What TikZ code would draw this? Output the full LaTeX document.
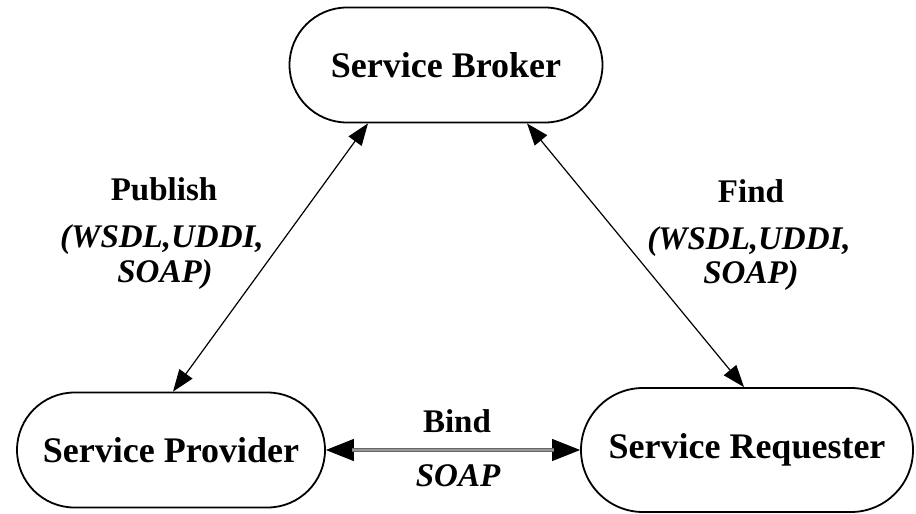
\documentclass[tikz,border=0pt]{standalone}
\usepackage{fontspec}
\setmainfont{Liberation Serif}
\usetikzlibrary{shapes.misc,arrows.meta,calc}

\tikzset{
  role/.style={rounded rectangle, draw=black, line width=1.8pt, fill=white,
    inner sep=0pt, font=\fontsize{36}{40}\selectfont\bfseries},
  lbl/.style={anchor=base, inner sep=0pt, font=\fontsize{33}{38}\selectfont\bfseries},
  ilbl/.style={lbl, font=\fontsize{33}{38}\selectfont\bfseries\itshape},
  link/.style={line width=1.2pt, {Triangle[length=22pt,width=16pt]}-{Triangle[length=22pt,width=16pt]}},
  bindtips/.style={line width=1pt, {Triangle[length=28pt,width=22pt]}-{Triangle[length=28pt,width=22pt]}},
  bindbar/.style={line width=1.3pt, draw=black!60, double=black!40, double distance=1.8pt, shorten <=26pt, shorten >=26pt}
}

\begin{document}
\begin{tikzpicture}[x=1pt,y=-1pt]
  \useasboundingbox (0,0) rectangle (916,514);

  % the three roles
  \node[role, minimum width=313pt, minimum height=115pt] (broker) at (446,65) {Service Broker};
  \node[role, minimum width=308pt, minimum height=115pt] (provider) at (171,450) {Service Provider};
  \node[role, minimum width=332pt, minimum height=124pt] (requester) at (747,450) {Service Requester};

  % interactions
  \draw[link] ($(broker.south)+(-78,0)$) -- ($(provider.north)+(2,0)$);
  \draw[link] ($(broker.south)+(81,0)$) -- ($(requester.north)+(-3,0)$);
  \draw[bindtips] (provider.east) -- (requester.west);
  \draw[bindbar] (provider.east) -- (requester.west);

  % publish label
  \node[lbl]  (pub1) at (164,200) {Publish};
  \node[ilbl] (pub2) at (162,247) {(WSDL,UDDI,};
  \node[ilbl] (pub3) at (165,282) {SOAP)};

  % find label
  \node[lbl]  (find1) at (751,202) {Find};
  \node[ilbl] (find2) at (749,249) {(WSDL,UDDI,};
  \node[ilbl] (find3) at (751,283) {SOAP)};

  % bind label
  \node[lbl]  (bind1) at (457,432) {Bind};
  \node[ilbl] (bind2) at (458,486) {SOAP};
\end{tikzpicture}
\end{document}
